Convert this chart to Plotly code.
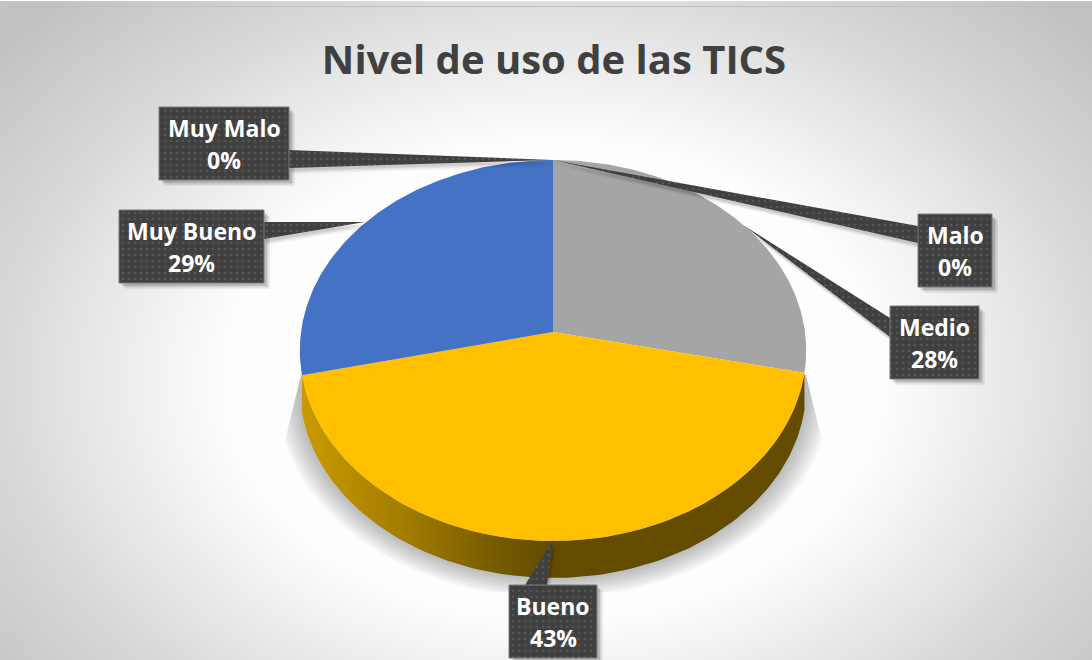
import numpy as np
import plotly.graph_objects as go

# data (clockwise from 12 o'clock)
categories = ["Muy Malo", "Malo", "Medio", "Bueno", "Muy Bueno"]
values = [0.0, 0.0, 28.4, 43.0, 28.6]
slice_colors = ["#5b9bd5", "#ed7d31", "#a5a5a5", "#ffc000", "#4472c4"]
title_text = "Nivel de uso de las TICS"

# page geometry, the axes run in page pixels
W, H = 1092, 660
CX, CY, RX, RY, TILT = 553, 332, 252, 188.7, 0.097
DEPTH = 37


def rim(frac):
    # point on the tilted pie edge, frac = share of the full turn
    t = 2 * np.pi * np.asarray(frac, dtype=float)
    w = 1 + TILT * np.cos(t)
    return CX + RX * np.sin(t) / w, CY - RY * np.cos(t) / w


fig = go.Figure()

# chart background
gx = np.arange(6, W + 13, 12)
gy = np.arange(7, H + 13, 12)
xx, yy = np.meshgrid(gx, gy)
dist = np.sqrt(((xx - CX) / 550) ** 2 + ((yy - 380) / 400) ** 2)
fig.add_trace(go.Heatmap(
    x=gx, y=gy, z=dist, zmin=0, zmax=1.3, zsmooth="best", showscale=False, hoverinfo="skip",
    colorscale=[[0, "#ffffff"], [0.46, "#fdfdfd"], [0.69, "#e2e2e2"], [0.77, "#d8d8d8"], [1, "#c2c2c2"]],
))

fractions = np.cumsum([0] + values) / sum(values)

# soft shadow under the pie, cut off like the original and tapering up the sides
fx, fy = rim(np.linspace(fractions[3], fractions[4], 120))
wx, wy = rim(np.linspace(0.2, 0.8, 200))
for grow in range(24, 0, -3):
    scale = 1 + grow / RX
    sy = np.clip(CY + DEPTH + (wy - CY) * scale, 375, 592)
    spread = 16 * np.minimum(1, (sy - 375) / 65)
    sx = np.clip(CX + (wx - CX) * scale, 301 - spread, 806 + spread)
    fig.add_trace(go.Scatter(
        x=np.r_[sx, sx[0]], y=np.r_[sy, sy[0]], mode="lines", line_width=0, fill="toself",
        fillcolor="rgba(80,80,80,0.05)", hoverinfo="skip", showlegend=False,
    ))

# side of the Bueno slice
fig.add_trace(go.Scatter(
    x=np.r_[fx, fx[::-1]], y=np.r_[fy, fy[::-1] + DEPTH], mode="lines", line_width=0, fill="toself",
    fillgradient=dict(type="horizontal", start=300, stop=806, colorscale=[
        [0, "#c99b00"], [0.2, "#a47d00"], [0.4, "#735800"], [0.5, "#634b00"], [1, "#634b00"]]),
    hoverinfo="skip", showlegend=False,
))

# top face, one wedge per value
for i, name in enumerate(categories):
    if values[i] == 0:
        continue
    px, py = rim(np.linspace(fractions[i], fractions[i + 1], 120))
    fig.add_trace(go.Scatter(
        x=np.r_[CX, px, CX], y=np.r_[CY, py, CY], mode="lines", line_width=0, fill="toself",
        fillcolor=slice_colors[i], name=name, hoverinfo="name", showlegend=False,
    ))

# label boxes (left, top, right, bottom) and their callout tails (two base points, tip)
label_boxes = [(159, 107, 289, 180), (918, 214, 992, 287), (890, 306, 979, 379), (509, 585, 597, 658), (119, 210, 264, 283)]
label_tails = [
    [(289, 150), (289, 168), (553, 160)],
    [(918, 226), (918, 243), (553, 160)],
    [(890, 318), (890, 337), (743, 225)],
    [(525, 585), (547, 585), (553, 540)],
    [(264, 222), (264, 239), (365, 222)],
]
label_font = dict(family="Open Sans", size=23, color="#ffffff", weight=700)

for box, tail, name, value in zip(label_boxes, label_tails, categories, values):
    x0, y0, x1, y1 = box
    ox = [x0, x1, x1, x0, x0]
    oy = [y0, y0, y1, y1, y0]
    tx = [p[0] for p in tail] + [tail[0][0]]
    ty = [p[1] for p in tail] + [tail[0][1]]
    # drop shadow
    for off, alpha in ((6, 0.06), (4.5, 0.09), (3, 0.13)):
        fig.add_trace(go.Scatter(
            x=[v + off for v in ox], y=[v + off for v in oy], mode="lines", line_width=0, fill="toself",
            fillcolor=f"rgba(0,0,0,{alpha})", hoverinfo="skip", showlegend=False,
        ))
        fig.add_trace(go.Scatter(
            x=[v + off / 2 for v in tx], y=[v + off for v in ty], mode="lines", line_width=0, fill="toself",
            fillcolor=f"rgba(0,0,0,{alpha * 0.7})", hoverinfo="skip", showlegend=False,
        ))
    for sx, sy, edge in ((tx, ty, 0), (ox, oy, 1)):
        fig.add_trace(go.Scatter(
            x=sx, y=sy, mode="lines", line=dict(width=edge, color="#7a7a7a"), fill="toself",
            fillcolor="#404040",
            fillpattern=dict(shape=".", bgcolor="#404040", fgcolor="#555555", size=6, solidity=0.15, fillmode="replace"),
            hoverinfo="skip", showlegend=False,
        ))
    # two annotations, the line spacing in the original is wider than plotly's
    mid = (y0 + y1) / 2
    fig.add_annotation(x=(x0 + x1) / 2, y=mid - 16, text=name, showarrow=False, font=label_font)
    fig.add_annotation(x=(x0 + x1) / 2, y=mid + 16, text=f"{round(value)}%", showarrow=False, font=label_font)

# top line of the chart frame
fig.add_shape(type="line", x0=6, x1=W, y0=6.5, y1=6.5, line=dict(color="#bdbdbd", width=1))

fig.update_layout(
    width=W, height=H,
    margin=dict(l=0, r=0, t=0, b=0),
    paper_bgcolor="#ffffff",
    plot_bgcolor="#ffffff",
    showlegend=False,
    title=dict(
        text=title_text, x=554 / W, y=1 - 60 / H, xanchor="center", yanchor="middle",
        font=dict(family="Open Sans", size=40, color="#404040", weight=700),
    ),
    xaxis=dict(range=[0, W], visible=False, fixedrange=True),
    yaxis=dict(range=[H, 0], visible=False, fixedrange=True),
)

# the page's default body margin would push the figure 8px off
fig.write_html(
    "out.html",
    config={"displayModeBar": False},
    post_script="document.body.style.margin='0';document.body.style.overflow='hidden';",
)
